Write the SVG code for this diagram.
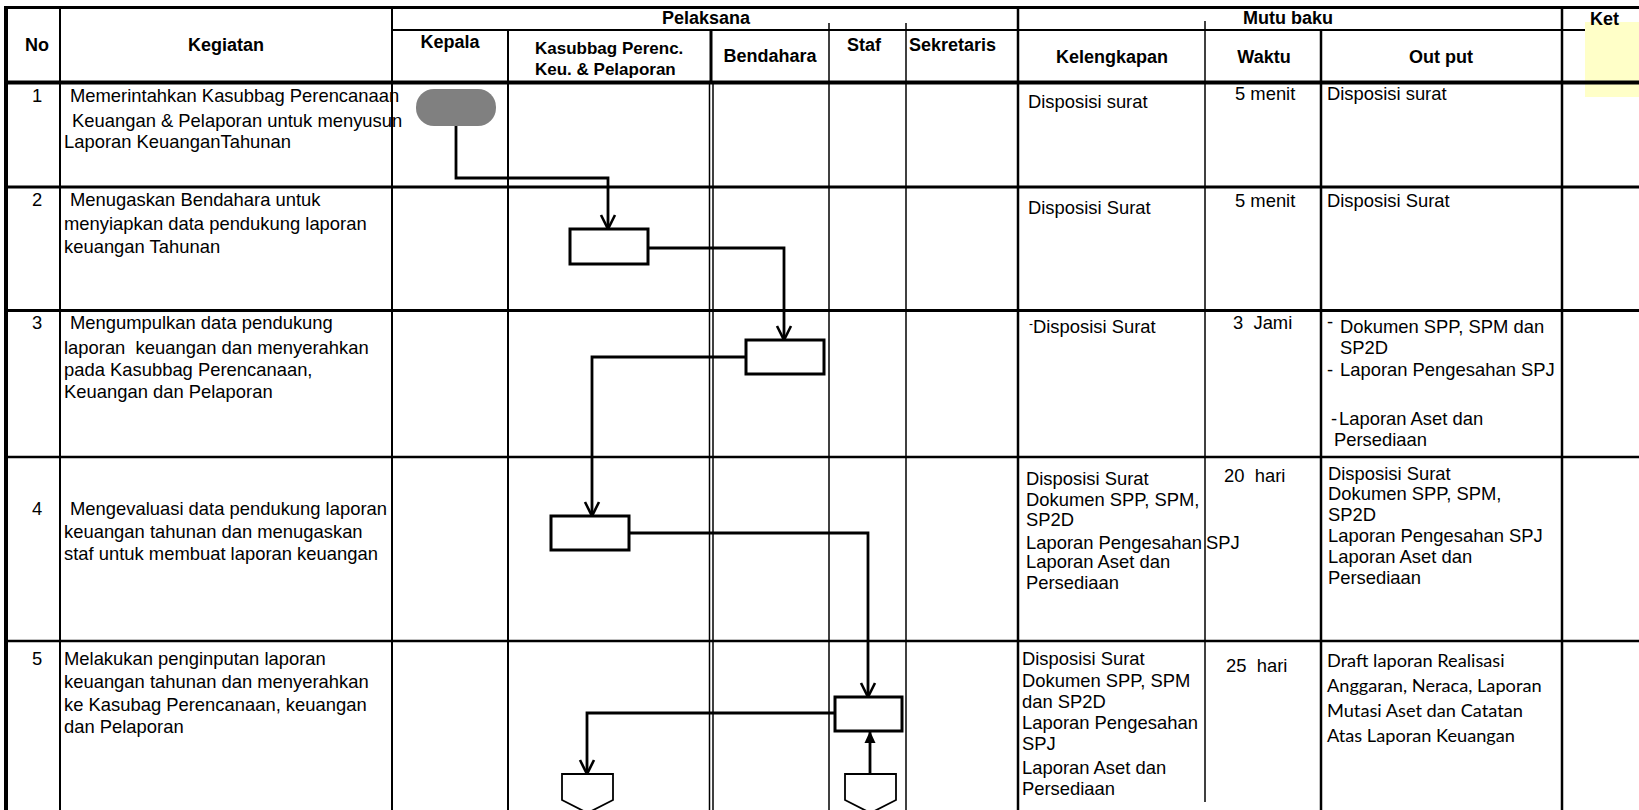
<svg xmlns="http://www.w3.org/2000/svg" width="1639" height="810" viewBox="0 0 1639 810">
<style>
  .t { font-family: "Liberation Sans", Arial, sans-serif; font-size: 18.4px; fill: #000; white-space: pre; }
  .h { font-family: "Liberation Sans", Arial, sans-serif; font-size: 18px; font-weight: bold; fill: #000; }
  .hs { font-family: "Liberation Sans", Arial, sans-serif; font-size: 17px; font-weight: bold; fill: #000; }
  .c { text-anchor: middle; }
  .o { font-family: Lato, "Liberation Sans", sans-serif; font-size: 18.2px; fill: #000; }
  .g { stroke: #000; fill: none; }
  .box { fill: #fff; stroke: #000; stroke-width: 3; }
  .conn { fill: none; stroke: #000; stroke-width: 2.8; }
  .off { fill: #fff; stroke: #000; stroke-width: 1.8; }
</style>
<defs>
  <marker id="arrOpen" markerUnits="userSpaceOnUse" markerWidth="18" markerHeight="18" viewBox="0 0 18 18" refX="15" refY="9" orient="auto">
    <path d="M1,2 L15,9 L1,16" fill="none" stroke="#000" stroke-width="2.6"/>
  </marker>
  <marker id="arrFill" markerUnits="userSpaceOnUse" markerWidth="14" markerHeight="14" viewBox="0 0 14 14" refX="12" refY="7" orient="auto">
    <path d="M0,1.5 L12,7 L0,12.5 z" fill="#000"/>
  </marker>
</defs>
<rect width="1639" height="810" fill="#fff"/>

<g id="grid">
  <line class="g" x1="392" y1="30" x2="1639" y2="30" stroke-width="2"/>
  <rect x="1585" y="22" width="54" height="75" fill="#FFFFC8"/>
  <line class="g" x1="6" y1="7.5" x2="1639" y2="7.5" stroke-width="3"/>
  <line class="g" x1="6" y1="82.5" x2="1639" y2="82.5" stroke-width="4"/>
  <line class="g" x1="6" y1="187" x2="1639" y2="187" stroke-width="3"/>
  <line class="g" x1="6" y1="310.5" x2="1639" y2="310.5" stroke-width="3"/>
  <line class="g" x1="6" y1="457" x2="1639" y2="457" stroke-width="2.5"/>
  <line class="g" x1="6" y1="641" x2="1639" y2="641" stroke-width="2.5"/>
  <line class="g" x1="6" y1="6" x2="6" y2="810" stroke-width="4"/>
  <line class="g" x1="60" y1="7" x2="60" y2="810" stroke-width="2"/>
  <line class="g" x1="392" y1="7" x2="392" y2="810" stroke-width="2"/>
  <line class="g" x1="508" y1="30" x2="508" y2="810" stroke-width="2"/>
  <line class="g" x1="711" y1="30" x2="711" y2="83" stroke-width="3"/>
  <line class="g" x1="709.5" y1="83" x2="709.5" y2="810" stroke-width="1.5"/>
  <line class="g" x1="713" y1="83" x2="713" y2="810" stroke-width="1.5"/>
  <line class="g" x1="829" y1="23" x2="829" y2="810" stroke-width="1.5"/>
  <line class="g" x1="906" y1="23" x2="906" y2="810" stroke-width="1.5"/>
  <line class="g" x1="1018" y1="7" x2="1018" y2="810" stroke-width="2.5"/>
  <line class="g" x1="1205" y1="21" x2="1205" y2="802" stroke-width="1.5"/>
  <line class="g" x1="1321" y1="30" x2="1321" y2="810" stroke-width="2.5"/>
  <line class="g" x1="1562" y1="7" x2="1562" y2="810" stroke-width="2.5"/>
</g>

<g id="headers">
  <text class="h c" x="706" y="24">Pelaksana</text>
  <text class="h c" x="1288" y="24">Mutu baku</text>
  <text class="h" x="1590" y="25">Ket</text>
  <text class="h c" x="37" y="51">No</text>
  <text class="h c" x="226" y="51">Kegiatan</text>
  <text class="h c" x="450" y="48">Kepala</text>
  <text class="hs" x="535" y="54">Kasubbag Perenc.</text>
  <text class="hs" x="535" y="75">Keu. &amp; Pelaporan</text>
  <text class="h c" x="770" y="62">Bendahara</text>
  <text class="h c" x="864" y="51">Staf</text>
  <text class="h" x="909" y="51">Sekretaris</text>
  <text class="h c" x="1112" y="63">Kelengkapan</text>
  <text class="h c" x="1264" y="63">Waktu</text>
  <text class="h c" x="1441" y="63">Out put</text>
</g>

<g id="row1">
  <text class="t c" x="37" y="102">1</text>
  <text class="t" x="70" y="102">Memerintahkan Kasubbag Perencanaan</text>
  <text class="t" x="72" y="127">Keuangan &amp; Pelaporan untuk menyusun</text>
  <text class="t" x="64" y="148">Laporan KeuanganTahunan</text>
  <text class="t" x="1028" y="108">Disposisi surat</text>
  <text class="t" x="1235" y="100">5 menit</text>
  <text class="t" x="1327" y="100">Disposisi surat</text>
</g>
<g id="row2">
  <text class="t c" x="37" y="206">2</text>
  <text class="t" x="70" y="206">Menugaskan Bendahara untuk</text>
  <text class="t" x="64" y="230">menyiapkan data pendukung laporan</text>
  <text class="t" x="64" y="253">keuangan Tahunan</text>
  <text class="t" x="1028" y="214">Disposisi Surat</text>
  <text class="t" x="1235" y="207">5 menit</text>
  <text class="t" x="1327" y="207">Disposisi Surat</text>
</g>
<g id="row3">
  <text class="t c" x="37" y="329">3</text>
  <text class="t" x="70" y="329">Mengumpulkan data pendukung</text>
  <text class="t" x="64" y="354" xml:space="preserve">laporan  keuangan dan menyerahkan</text>
  <text class="t" x="64" y="376">pada Kasubbag Perencanaan,</text>
  <text class="t" x="64" y="398">Keuangan dan Pelaporan</text>
  <text class="t" x="1029" y="333"><tspan font-size="12" dy="-5">-</tspan><tspan dy="5">Disposisi Surat</tspan></text>
  <text class="t" x="1233" y="329" xml:space="preserve">3  Jami</text>
  <text class="t" x="1327" y="328" font-size="12">-</text>
  <text class="t" x="1340" y="333">Dokumen SPP, SPM dan</text>
  <text class="t" x="1340" y="354">SP2D</text>
  <text class="t" x="1327" y="376">-</text>
  <text class="t" x="1340" y="376">Laporan Pengesahan SPJ</text>
  <text class="t" x="1331" y="425">-</text>
  <text class="t" x="1339" y="425">Laporan Aset dan</text>
  <text class="t" x="1334" y="446">Persediaan</text>
</g>
<g id="row4">
  <text class="t c" x="37" y="515">4</text>
  <text class="t" x="70" y="515">Mengevaluasi data pendukung laporan</text>
  <text class="t" x="64" y="538">keuangan tahunan dan menugaskan</text>
  <text class="t" x="64" y="560">staf untuk membuat laporan keuangan</text>
  <text class="t" x="1026" y="485">Disposisi Surat</text>
  <text class="t" x="1026" y="506">Dokumen SPP, SPM,</text>
  <text class="t" x="1026" y="526">SP2D</text>
  <text class="t" x="1026" y="549">Laporan Pengesahan</text>
  <text class="t" x="1206" y="549">SPJ</text>
  <text class="t" x="1026" y="568">Laporan Aset dan</text>
  <text class="t" x="1026" y="589">Persediaan</text>
  <text class="t" x="1224" y="482" xml:space="preserve">20  hari</text>
  <text class="t" x="1328" y="480">Disposisi Surat</text>
  <text class="t" x="1328" y="500">Dokumen SPP, SPM,</text>
  <text class="t" x="1328" y="521">SP2D</text>
  <text class="t" x="1328" y="542">Laporan Pengesahan SPJ</text>
  <text class="t" x="1328" y="563">Laporan Aset dan</text>
  <text class="t" x="1328" y="584">Persediaan</text>
</g>
<g id="row5">
  <text class="t c" x="37" y="665">5</text>
  <text class="t" x="64" y="665">Melakukan penginputan laporan</text>
  <text class="t" x="64" y="688">keuangan tahunan dan menyerahkan</text>
  <text class="t" x="64" y="711">ke Kasubag Perencanaan, keuangan</text>
  <text class="t" x="64" y="733">dan Pelaporan</text>
  <text class="t" x="1022" y="665">Disposisi Surat</text>
  <text class="t" x="1022" y="687">Dokumen SPP, SPM</text>
  <text class="t" x="1022" y="708">dan SP2D</text>
  <text class="t" x="1022" y="729">Laporan Pengesahan</text>
  <text class="t" x="1022" y="750">SPJ</text>
  <text class="t" x="1022" y="774">Laporan Aset dan</text>
  <text class="t" x="1022" y="795">Persediaan</text>
  <text class="t" x="1226" y="672" xml:space="preserve">25  hari</text>
  <text class="o" x="1327" y="667">Draft laporan Realisasi</text>
  <text class="o" x="1327" y="692">Anggaran, Neraca, Laporan</text>
  <text class="o" x="1327" y="717">Mutasi Aset dan Catatan</text>
  <text class="o" x="1327" y="742">Atas Laporan Keuangan</text>
</g>

<g id="connectors">
  <path class="conn" d="M456,126 V178 H608 V229" marker-end="url(#arrOpen)"/>
  <path class="conn" d="M648,248 H784 V340" marker-end="url(#arrOpen)"/>
  <path class="conn" d="M746,357 H592 V516" marker-end="url(#arrOpen)"/>
  <path class="conn" d="M629,533 H868 V697" marker-end="url(#arrOpen)"/>
  <path class="conn" d="M835,713 H587 V774" marker-end="url(#arrOpen)"/>
  <path class="conn" d="M870,774 V731" marker-end="url(#arrFill)"/>
</g>

<g id="n1"><rect x="416" y="89" width="80" height="37" rx="18" ry="18" fill="#808080"/></g>
<g id="n2"><rect class="box" x="570" y="229" width="78" height="35"/></g>
<g id="n3"><rect class="box" x="746" y="340" width="78" height="34"/></g>
<g id="n4"><rect class="box" x="551" y="516" width="78" height="34"/></g>
<g id="n5"><rect class="box" x="835" y="697" width="67" height="34"/></g>
<g id="off1"><polygon class="off" points="562,774 613,774 613,800 587.5,813 562,800"/></g>
<g id="off2"><polygon class="off" points="845,774 896,774 896,800 870.5,813 845,800"/></g>
</svg>
